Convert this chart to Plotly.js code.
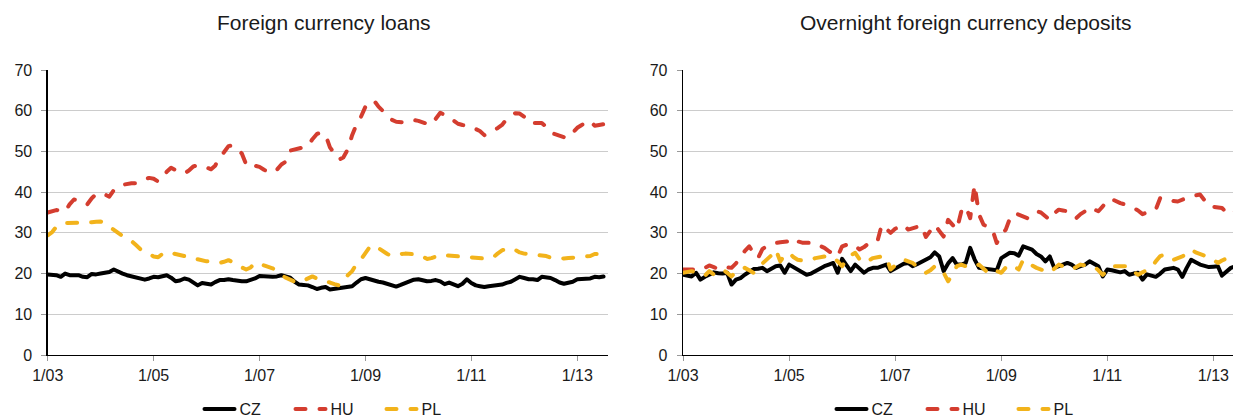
<!DOCTYPE html>
<html>
<head>
<meta charset="utf-8">
<script src="https://cdn.plot.ly/plotly-3.0.1.min.js"></script>
<style>
  html, body { margin: 0; padding: 0; overflow: hidden; background: #fff; }
  #chart { width: 1233px; height: 417px; }
  .js-line { stroke-linecap: round; stroke-linejoin: round; }
</style>
</head>
<body>
<div id="chart"></div>
<script>
// Monthly observations, Jan 2003 - Jul 2013
const startMonth = "2003-01";
const seriesNames = ["CZ", "HU", "PL"];
const panelTitles = ["Foreign currency loans", "Overnight foreign currency deposits"];

const loansCZ = [19.8,19.7,19.6,19.2,20.0,19.6,19.7,19.6,19.2,19.1,19.9,19.8,20.0,20.1,20.4,21.0,20.4,20.0,19.6,19.3,19.1,18.9,18.5,18.8,19.2,19.1,19.3,19.6,19.0,18.1,18.3,18.8,18.5,17.8,17.1,17.7,17.6,17.3,17.9,18.4,18.4,18.6,18.4,18.2,18.1,18.1,18.4,18.8,19.4,19.3,19.2,19.2,19.3,19.6,19.3,19.0,18.0,17.3,17.2,17.1,16.7,16.2,16.5,16.7,16.1,16.3,16.5,16.6,16.7,16.9,17.8,18.6,18.9,18.6,18.1,18.0,17.8,17.5,17.0,16.8,17.2,17.6,18.0,18.5,18.6,18.3,18.1,18.2,18.4,18.1,17.4,17.8,17.4,16.9,17.5,18.6,17.7,17.1,16.9,16.7,16.9,17.0,17.1,17.3,17.7,18.0,18.6,19.2,18.9,18.6,18.6,18.4,19.2,19.1,18.9,18.4,17.8,17.5,17.7,18.0,18.6,18.6,18.8,18.8,19.2,19.1,19.3];
const loansHU = [35.0,35.3,35.6,35.5,35.2,37.0,38.2,38.0,37.2,37.0,38.5,39.5,39.8,39.4,38.9,40.5,41.3,41.8,42.1,42.2,42.2,42.5,43.2,43.5,43.3,42.6,43.5,45.0,46.0,45.5,44.8,44.6,45.3,46.3,46.6,46.5,46.0,45.6,46.5,48.5,49.8,51.3,51.5,50.5,49.5,46.8,46.0,46.5,46.2,45.5,45.0,44.8,45.5,46.8,47.5,50.2,50.5,50.8,51.0,51.3,53.0,54.3,54.6,54.0,51.0,49.5,48.0,48.5,50.5,54.0,56.7,58.5,61.0,61.5,62.5,61.0,60.0,58.8,57.8,57.3,57.2,57.1,57.4,57.7,57.5,57.0,56.8,56.6,58.0,59.5,59.0,58.5,57.6,56.8,56.5,56.4,56.1,55.5,55.0,54.0,54.5,55.2,55.7,56.5,57.9,58.8,59.4,59.3,58.5,57.0,56.9,57.0,57.0,56.0,54.6,54.2,54.0,53.5,53.4,54.5,55.8,56.5,57.2,57.5,56.3,56.5,56.7];
const loansPL = [29.4,30.2,31.5,32.2,32.4,32.4,32.5,32.5,32.4,32.5,32.6,32.7,32.8,32.3,31.5,30.6,30.0,29.2,28.6,28.0,27.0,26.0,25.4,24.8,24.2,24.0,24.8,25.3,25.1,24.8,24.6,24.3,24.0,23.9,23.5,23.2,23.0,23.0,22.8,22.6,22.9,23.3,22.8,22.0,21.5,21.0,21.5,22.6,22.5,22.0,21.6,21.3,20.6,19.6,19.0,18.5,18.0,17.8,18.3,19.0,19.3,18.8,18.5,18.3,17.8,17.4,17.1,18.0,19.6,20.6,22.4,23.5,25.2,26.6,27.0,26.2,25.3,24.8,24.3,24.6,24.8,24.9,24.8,24.7,24.7,24.2,23.6,23.8,24.3,24.6,24.5,24.4,24.2,24.1,24.2,24.0,23.9,23.9,23.8,23.7,23.7,24.0,24.9,25.7,26.1,26.3,25.8,25.2,24.9,24.8,24.7,24.7,24.6,24.3,23.9,23.8,23.7,23.7,23.8,23.9,23.9,23.9,24.0,24.3,24.8,24.8,24.9];

const depositsCZ = [19.7,19.5,19.3,20.2,18.5,19.2,19.7,20.3,20.1,20.0,20.2,17.3,18.5,18.9,19.7,20.5,21.1,21.2,21.4,20.6,21.3,21.8,22.0,20.2,22.2,21.5,21.0,20.2,19.7,20.0,20.6,21.4,21.8,22.2,22.6,20.2,23.6,22.0,20.6,22.2,21.2,20.2,21.0,21.4,21.4,21.8,22.2,20.6,21.2,21.8,22.4,22.6,21.8,22.3,22.8,23.5,24.0,25.2,24.2,20.6,22.5,23.8,22.2,22.2,22.6,26.3,23.5,21.4,21.2,21.0,20.9,20.8,23.8,24.6,25.1,25.0,24.4,26.7,26.2,25.9,24.8,24.2,23.0,24.2,21.4,21.8,22.2,22.6,22.2,21.4,21.8,22.2,23.0,22.4,21.8,19.3,21.0,20.8,20.5,20.3,20.6,19.7,20.0,20.2,18.5,19.8,19.5,19.2,20.0,21.0,21.2,21.4,21.0,19.2,21.4,23.4,22.8,22.2,21.9,21.6,21.7,21.8,19.5,20.5,21.4,21.8,21.6];
const depositsHU = [21.0,21.0,21.1,21.0,20.8,21.5,22.0,21.6,21.1,21.6,21.5,21.4,22.5,24.2,25.5,26.7,25.0,23.8,26.0,26.8,27.2,27.5,27.7,27.9,27.9,28.7,27.9,27.6,27.5,27.4,27.5,26.8,26.3,25.5,24.8,24.2,26.7,27.0,27.4,26.8,25.9,26.5,27.4,27.6,27.9,32.0,31.0,30.0,31.0,31.5,32.0,30.8,31.2,31.5,31.8,29.0,30.5,32.0,30.5,29.1,33.2,32.0,30.8,35.3,36.5,33.6,41.8,34.5,32.0,31.5,30.8,27.5,29.5,30.8,33.5,34.9,34.5,34.0,33.6,34.5,35.3,35.0,34.0,33.2,34.8,35.7,35.5,35.3,34.5,33.6,34.6,35.3,36.3,35.8,35.3,36.5,38.0,38.3,37.8,37.3,37.0,36.6,36.1,35.5,34.6,35.0,35.4,35.7,38.6,38.3,38.0,37.8,37.7,38.2,38.7,39.0,39.2,39.4,38.0,36.5,36.4,36.2,36.1,35.0,34.5,35.3,35.8];
const depositsPL = [20.2,20.4,20.6,20.3,20.0,19.5,20.6,19.8,20.5,21.0,20.2,19.3,20.5,21.0,21.4,20.8,20.2,21.5,22.5,23.4,24.5,25.9,23.0,24.5,25.1,24.0,23.4,23.2,23.3,23.4,23.8,24.0,24.2,24.1,24.1,23.0,21.8,23.5,24.5,25.1,23.5,22.6,23.2,23.8,24.0,24.2,24.1,21.0,22.0,22.8,23.4,23.0,22.6,21.8,21.0,20.2,20.8,21.8,21.2,20.2,18.1,20.0,21.8,22.2,21.8,21.4,21.8,22.2,21.2,20.2,21.0,20.6,20.2,21.5,22.2,21.8,21.0,23.4,22.6,22.0,21.4,21.0,20.6,20.2,21.2,22.2,21.8,21.4,21.0,21.6,22.2,22.0,21.9,21.8,20.8,19.7,20.8,21.8,21.8,21.8,21.8,21.8,20.5,19.7,20.3,20.8,21.4,23.0,24.3,24.7,24.0,23.4,23.8,24.2,25.0,25.9,25.2,24.7,24.4,24.2,23.4,22.6,23.2,23.8,24.2,24.0,24.0];

const yTicks = [0, 10, 20, 30, 40, 50, 60, 70];

function monthList(start, n) {
  const [y0, m0] = start.split("-").map(Number);
  const out = [];
  for (let i = 0; i < n; i++) {
    const t = (m0 - 1) + i;
    const y = y0 + Math.floor(t / 12);
    const m = (t % 12) + 1;
    out.push(y + "-" + String(m).padStart(2, "0") + "-01");
  }
  return out;
}

const W = 1233, H = 417;
const dates = monthList(startMonth, loansCZ.length);
const colors = { CZ: "#000000", HU: "#d43d2f", PL: "#f2b31b" };
const dashes = { CZ: "solid", HU: "10px,14px", PL: "10px,14px" };

const panels = [
  { data: { CZ: loansCZ, HU: loansHU, PL: loansPL }, xa: "x", ya: "y", legend: "legend" },
  { data: { CZ: depositsCZ, HU: depositsHU, PL: depositsPL }, xa: "x2", ya: "y2", legend: "legend2" }
];

const traces = [];
panels.forEach(p => {
  seriesNames.forEach(s => {
    traces.push({
      type: "scatter", mode: "lines",
      x: dates, y: p.data[s], name: s,
      xaxis: p.xa, yaxis: p.ya, legend: p.legend,
      line: { color: colors[s], width: 4, dash: dashes[s] },
      hoverinfo: "skip"
    });
  });
});

const font = { family: "Liberation Sans, Arial, sans-serif", size: 16, color: "#1a1a1a" };
const xCommon = {
  type: "date", tick0: "2003-01-01", dtick: "M24", tickformat: "%-m/%y",
  showgrid: false, zeroline: false, showline: true, linecolor: "#000", linewidth: 1.3,
  ticks: "outside", ticklen: 5, tickcolor: "#999", tickfont: font, fixedrange: true
};
const yCommon = {
  range: [0, 70], tickvals: yTicks, showgrid: true, gridcolor: "#cccccc", gridwidth: 1,
  zeroline: false, showline: true, linecolor: "#000", linewidth: 1.3,
  ticks: "outside", ticklen: 5, tickcolor: "#999", tickfont: font, ticklabelstandoff: 6, fixedrange: true
};
const yDom = [1 - 355 / H, 1 - 70 / H];

const legendCommon = {
  orientation: "h", xanchor: "center", y: 1 - 409 / H, yanchor: "middle",
  font: font, bgcolor: "rgba(0,0,0,0)", itemclick: false, itemdoubleclick: false,
  entrywidth: 46, entrywidthmode: "pixels", tracegroupgap: 0
};

const layout = {
  width: W, height: H,
  margin: { l: 0, r: 0, t: 0, b: 0, autoexpand: false },
  paper_bgcolor: "#fff", plot_bgcolor: "#fff",
  font: font,
  showlegend: true,
  xaxis: Object.assign({}, xCommon, { domain: [47.7 / W, 608 / W], anchor: "y", range: ["2003-01-01", "2013-08-01"] }),
  yaxis: Object.assign({}, yCommon, { domain: yDom, anchor: "x" }),
  xaxis2: Object.assign({}, xCommon, { domain: [683 / W, 1], anchor: "y2", range: ["2003-01-01", "2013-05-16"] }),
  yaxis2: Object.assign({}, yCommon, { domain: yDom, anchor: "x2" }),
  legend: Object.assign({}, legendCommon, { x: 336 / W }),
  legend2: Object.assign({}, legendCommon, { x: 968 / W }),
  annotations: [
    { text: panelTitles[0], xref: "paper", yref: "paper", x: 323.5 / W, y: 1 - 22 / H,
      xanchor: "center", yanchor: "middle", showarrow: false,
      font: { family: font.family, size: 21, color: "#1a1a1a" } },
    { text: panelTitles[1], xref: "paper", yref: "paper", x: 965.5 / W, y: 1 - 22 / H,
      xanchor: "center", yanchor: "middle", showarrow: false,
      font: { family: font.family, size: 21, color: "#1a1a1a" } }
  ]
};

Plotly.newPlot("chart", traces, layout, { displayModeBar: false, staticPlot: true });
</script>
</body>
</html>
